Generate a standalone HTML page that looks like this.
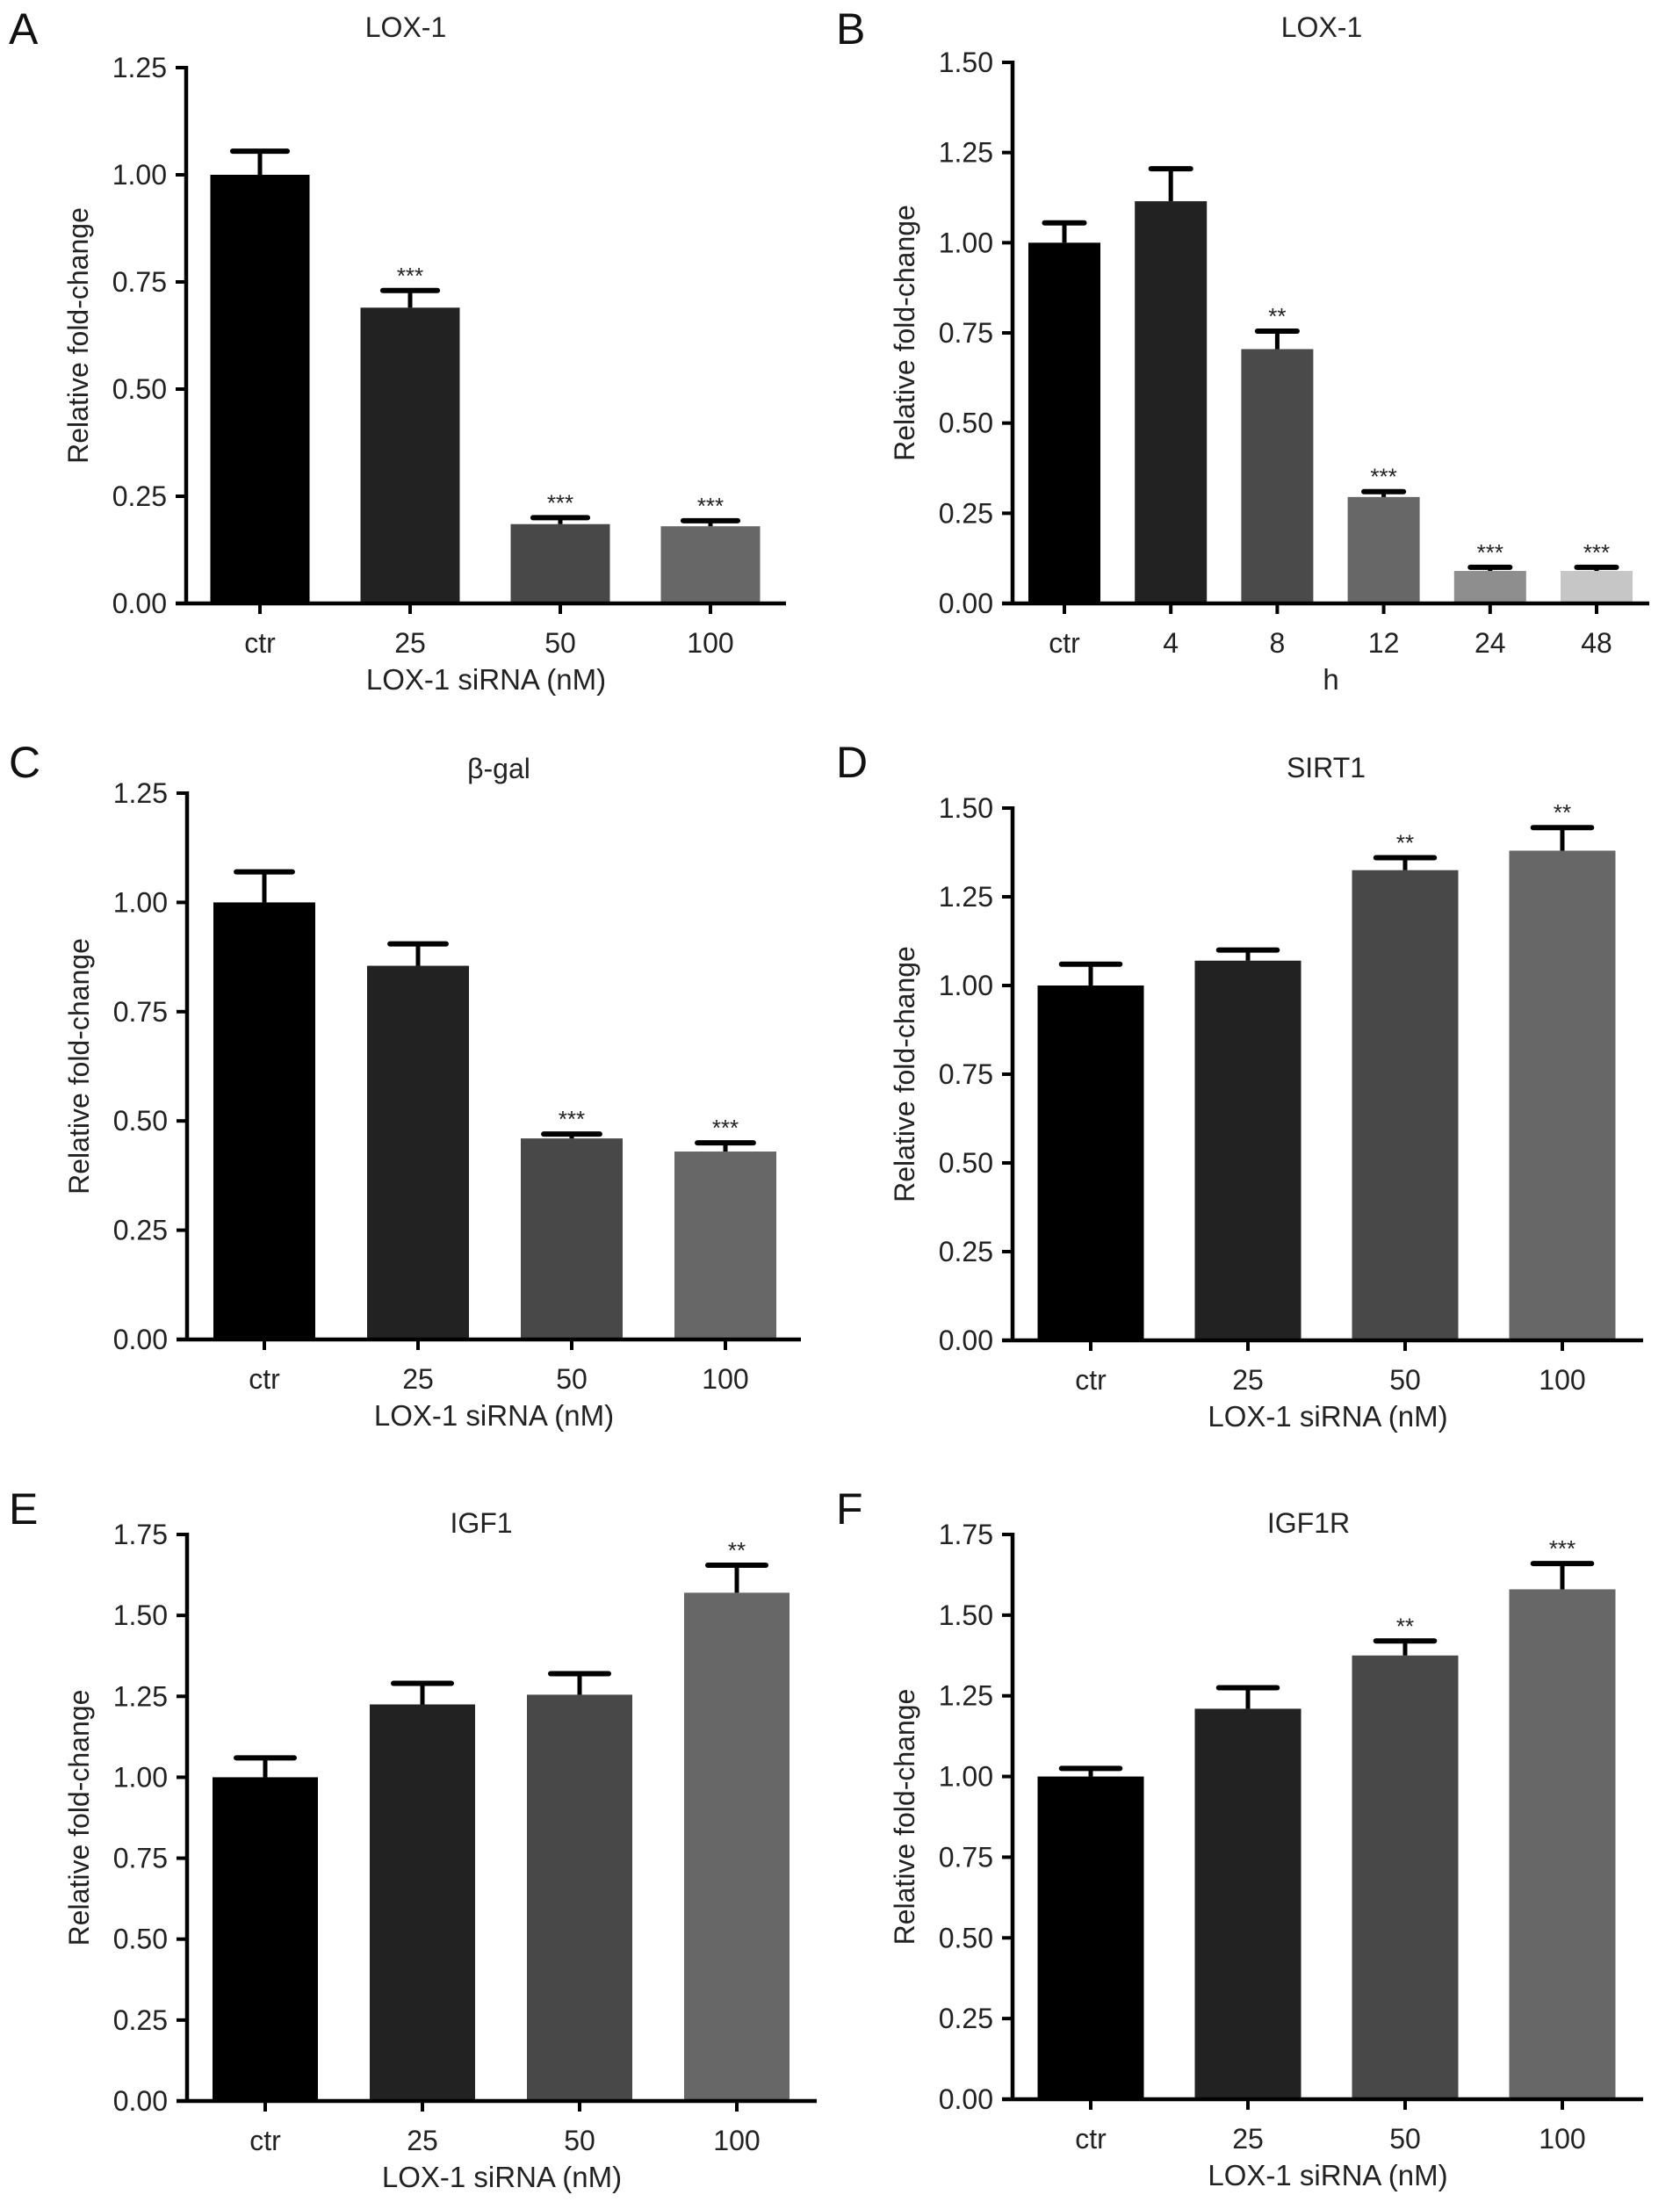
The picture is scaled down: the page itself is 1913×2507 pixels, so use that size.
<!DOCTYPE html>
<html><head><meta charset="utf-8"><title>LOX-1 knockdown figure</title>
<style>
html,body{margin:0;padding:0;background:#fff;}
svg{display:block;font-family:"Liberation Sans",Arial,sans-serif;}
</style></head>
<body>
<svg id="fig" width="1913" height="2507" viewBox="0 0 1913 2507" xmlns="http://www.w3.org/2000/svg"></svg>
<script>
const catsDose = ["ctr","25","50","100"];
const catsTime = ["ctr","4","8","12","24","48"];
const valsA = [1.00, 0.69, 0.185, 0.18];
const errA  = [1.055, 0.73, 0.20, 0.193];
const starsA = ["", "***", "***", "***"];
const valsB = [1.00, 1.115, 0.705, 0.295, 0.09, 0.09];
const errB  = [1.055, 1.205, 0.755, 0.31, 0.10, 0.10];
const starsB = ["", "", "**", "***", "***", "***"];
const valsC = [1.00, 0.855, 0.46, 0.43];
const errC  = [1.07, 0.905, 0.47, 0.45];
const starsC = ["", "", "***", "***"];
const valsD = [1.00, 1.07, 1.325, 1.38];
const errD  = [1.06, 1.10, 1.36, 1.445];
const starsD = ["", "", "**", "**"];
const valsE = [1.00, 1.225, 1.255, 1.57];
const errE  = [1.06, 1.29, 1.32, 1.655];
const starsE = ["", "", "", "**"];
const valsF = [1.00, 1.21, 1.375, 1.58];
const errF  = [1.025, 1.275, 1.42, 1.66];
const starsF = ["", "", "**", "***"];
const ticks125 = ["0.00","0.25","0.50","0.75","1.00","1.25"];
const ticks150 = ["0.00","0.25","0.50","0.75","1.00","1.25","1.50"];
const ticks175 = ["0.00","0.25","0.50","0.75","1.00","1.25","1.50","1.75"];

const NS = "http://www.w3.org/2000/svg";
const svg = document.getElementById("fig");
function mk(tag, attrs, parent){
  const e = document.createElementNS(NS, tag);
  for (const k in attrs) e.setAttribute(k, attrs[k]);
  (parent||svg).appendChild(e);
  return e;
}
const colors4 = ["#000000","#222222","#484848","#676767"];
const colors6 = ["#000000","#222222","#4a4a4a","#676767","#8e8e8e","#c6c6c6"];

function panel(p){
  const g = mk("g", {});
  
  
  const ymax = parseFloat(p.ticks[p.ticks.length-1]);
  const yS = v => p.y0 - (v / ymax) * (p.y0 - p.yTop);
  const xS = i => p.c0 + i * p.step;
  // letter
  const L = mk("text", {x: p.lx, y: p.ly, "font-size": 50, fill: "#111"}, g);
  L.textContent = p.letter;
  
  
  // title
  const T = mk("text", {x: p.tx, y: p.ty, "font-size": 32, "text-anchor": "middle", fill: "#222"}, g);
  T.textContent = p.title;
  
  
  // bars
  p.vals.forEach((v, i) => {
    const cx = xS(i);
    const r = mk("rect", {x: cx - p.bw/2, y: yS(v), width: p.bw, height: p.y0 - yS(v), fill: p.colors[i]}, g);
    
    
    const et = yS(p.err[i]);
    const ev = mk("line", {x1: cx, x2: cx, y1: yS(v), y2: et, stroke: "#000", "stroke-width": 5}, g);
    
    
    const cap = p.bw * 0.55;
    const ec = mk("line", {x1: cx - cap/2, x2: cx + cap/2, y1: et, y2: et, stroke: "#000", "stroke-width": 6, "stroke-linecap": "round"}, g);
    
    
    if (p.stars[i]) {
      const s = mk("text", {x: cx, y: et - 8, "font-size": 26, "text-anchor": "middle", fill: "#222"}, g);
      s.textContent = p.stars[i];
      
      
    }
    const tk = mk("line", {x1: cx, x2: cx, y1: p.y0, y2: p.y0 + 12, stroke: "#000", "stroke-width": 4}, g);
    
    
    const tl = mk("text", {x: cx, y: p.y0 + 56, "font-size": 32, "text-anchor": "middle", fill: "#222"}, g);
    tl.textContent = p.cats[i];
    
    
  });
  // axes
  const ya = mk("line", {x1: p.ax, x2: p.ax, y1: p.yTop - 2, y2: p.y0 + 2, stroke: "#000", "stroke-width": 4.5}, g);
  
  
  const xa = mk("line", {x1: p.ax - 12, x2: p.xEnd, y1: p.y0, y2: p.y0, stroke: "#000", "stroke-width": 4.5}, g);
  
  
  p.ticks.forEach(t => {
    const y = yS(parseFloat(t));
    const tk = mk("line", {x1: p.ax - 12, x2: p.ax, y1: y, y2: y, stroke: "#000", "stroke-width": 4}, g);
    
    
    const tl = mk("text", {x: p.ax - 22, y: y + 11, "font-size": 32, "text-anchor": "end", fill: "#222"}, g);
    tl.textContent = t;
    
    
  });
  const yc = (p.y0 + p.yTop) / 2;
  const yt = mk("text", {x: p.ax - 112, y: yc, "font-size": 32, "text-anchor": "middle", fill: "#222", transform: "rotate(-90 " + (p.ax - 112) + " " + yc + ")"}, g);
  yt.textContent = "Relative fold-change";
  
  
  const xt = mk("text", {x: (p.ax + p.xEnd) / 2, y: p.y0 + 98, "font-size": 33, "text-anchor": "middle", fill: "#222"}, g);
  xt.textContent = p.xlabel;
  
  
}

const dose = "LOX-1 siRNA (nM)";
panel({letter:"A", lx:10, ly:50, title:"LOX-1", tx:462, ty:42, vals:valsA, err:errA, stars:starsA, cats:catsDose, colors:colors4,
  ticks:ticks125, ax:212, y0:687, yTop:77, c0:296, step:171, bw:113, xEnd:895, xlabel:dose});
panel({letter:"B", lx:952, ly:50, title:"LOX-1", tx:1505, ty:42, vals:valsB, err:errB, stars:starsB, cats:catsTime, colors:colors6,
  ticks:ticks150, ax:1153, y0:687, yTop:71, c0:1212, step:121.2, bw:82, xEnd:1878, xlabel:"h"});
panel({letter:"C", lx:10, ly:885, title:"β-gal", tx:568, ty:886, vals:valsC, err:errC, stars:starsC, cats:catsDose, colors:colors4,
  ticks:ticks125, ax:213, y0:1525, yTop:903, c0:301, step:175, bw:116, xEnd:912, xlabel:dose});
panel({letter:"D", lx:952, ly:885, title:"SIRT1", tx:1510, ty:885, vals:valsD, err:errD, stars:starsD, cats:catsDose, colors:colors4,
  ticks:ticks150, ax:1153, y0:1526, yTop:920, c0:1242, step:179, bw:121, xEnd:1871, xlabel:dose});
panel({letter:"E", lx:10, ly:1735, title:"IGF1", tx:548, ty:1745, vals:valsE, err:errE, stars:starsE, cats:catsDose, colors:colors4,
  ticks:ticks175, ax:213, y0:2392, yTop:1747, c0:302, step:179, bw:120, xEnd:930, xlabel:dose});
panel({letter:"F", lx:952, ly:1735, title:"IGF1R", tx:1490, ty:1745, vals:valsF, err:errF, stars:starsF, cats:catsDose, colors:colors4,
  ticks:ticks175, ax:1153, y0:2390, yTop:1747, c0:1242, step:179, bw:121, xEnd:1871, xlabel:dose});
</script>
</body></html>
